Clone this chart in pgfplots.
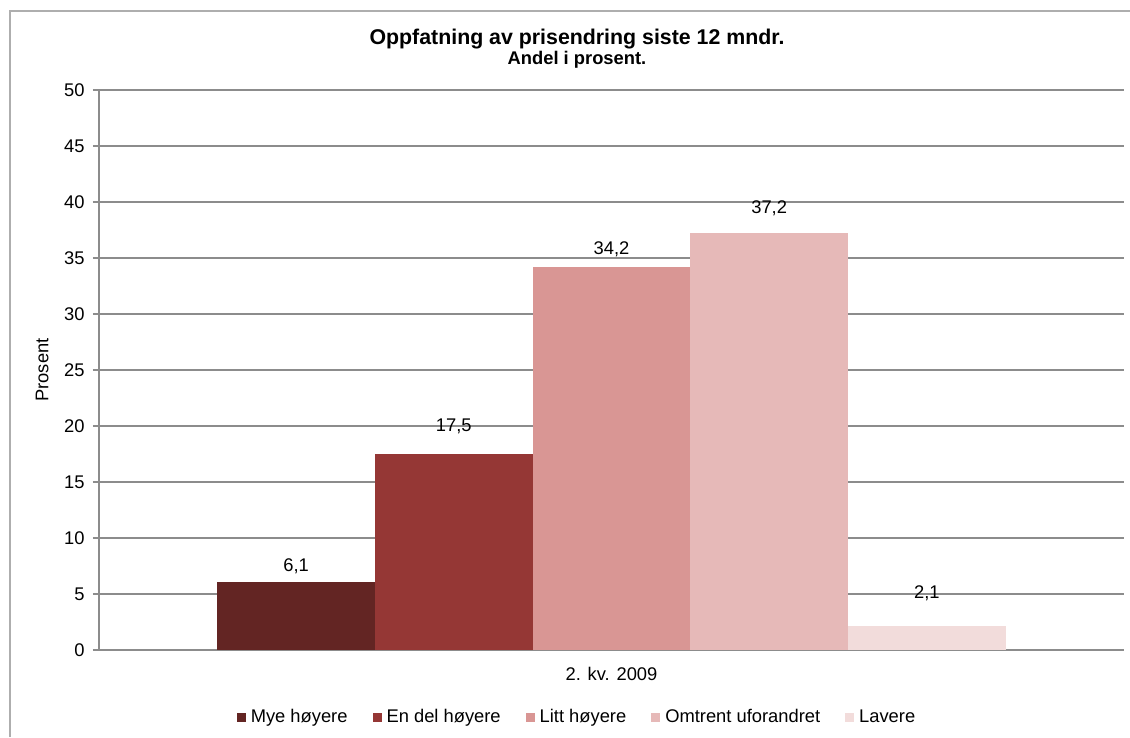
\documentclass[border=0pt]{standalone}
\usepackage{fontspec}
\setmainfont{Liberation Sans}
\usepackage{pgfplots}
\pgfplotsset{compat=1.18}

\definecolor{c1}{HTML}{632523}
\definecolor{c2}{HTML}{953735}
\definecolor{c3}{HTML}{D99694}
\definecolor{c4}{HTML}{E6B9B8}
\definecolor{c5}{HTML}{F2DCDB}
\definecolor{gridc}{HTML}{8C8C8C}

% 1 px of the reference = 0.6pt
\begin{document}
\begin{tikzpicture}
  \path[use as bounding box] (0pt,0pt) rectangle (678pt,442.2pt);
  \draw[gridc!70, line width=0.9pt] (6pt,0pt) -- (6pt,435.6pt) -- (678pt,435.6pt);

  \node[anchor=base, font=\bfseries\fontsize{12.8}{15}\selectfont] at (346.2pt,415.6pt) {Oppfatning av prisendring siste 12 mndr.};
  \node[anchor=base, font=\bfseries\fontsize{11}{13}\selectfont] at (346.2pt,403.2pt) {Andel i prosent.};

  \begin{axis}[
      at={(59.4pt,52.2pt)}, anchor=south west,
      scale only axis,
      width=615pt, height=336pt,
      ybar=0pt,
      bar width=94.6pt,
      xmin=-0.5, xmax=0.5,
      ymin=0, ymax=50,
      ytick={0,5,...,50},
      xtick={0},
      xticklabels={2. kv. 2009},
      extra x ticks={-0.5,0.5},
      extra x tick labels={},
      extra x tick style={major tick length=3pt, tick align=outside, tick style={gridc, line width=0.7pt}},
      x tick style={draw=none},
      y tick style={gridc, line width=0.7pt},
      tick align=outside,
      major tick length=3.6pt,
      ymajorgrids,
      grid style={gridc, line width=0.7pt},
      axis x line*=bottom,
      axis y line*=left,
      axis line style={gridc, line width=0.8pt},
      /pgf/number format/assume math mode=true,
      ticklabel style={font=\fontsize{11}{13}\selectfont},
      yticklabel style={xshift=-1.5pt},
      xticklabel style={yshift=-3pt},
      ylabel={Prosent},
      ylabel style={font=\fontsize{11}{13}\selectfont, yshift=2.5pt},
      nodes near coords={\pgfmathprintnumber[use comma,fixed,fixed zerofill,precision=1]{\pgfplotspointmeta}},
      nodes near coords style={font=\fontsize{11}{13}\selectfont, anchor=center},
      legend style={at={(0.467,-0.12)}, anchor=center, draw=none,
        legend columns=5, font=\fontsize{11}{13}\selectfont,
        /tikz/every odd column/.append style={column sep=1pt},
        /tikz/every even column/.append style={column sep=13pt}},
      legend image code/.code={\fill[#1] (0pt,-2.7pt) rectangle (5.4pt,2.7pt);},
    ]
    \addplot[fill=c1, draw=none, nodes near coords style={yshift=9pt}] coordinates {(0,6.1)};
    \addplot[fill=c2, draw=none, nodes near coords style={yshift=16.8pt}] coordinates {(0,17.5)};
    \addplot[fill=c3, draw=none, nodes near coords style={yshift=10.8pt}] coordinates {(0,34.2)};
    \addplot[fill=c4, draw=none, nodes near coords style={yshift=15pt}] coordinates {(0,37.2)};
    \addplot[fill=c5, draw=none, nodes near coords style={yshift=19.8pt}] coordinates {(0,2.1)};
    \legend{Mye høyere, En del høyere, Litt høyere, Omtrent uforandret, Lavere}
  \end{axis}
\end{tikzpicture}
\end{document}
